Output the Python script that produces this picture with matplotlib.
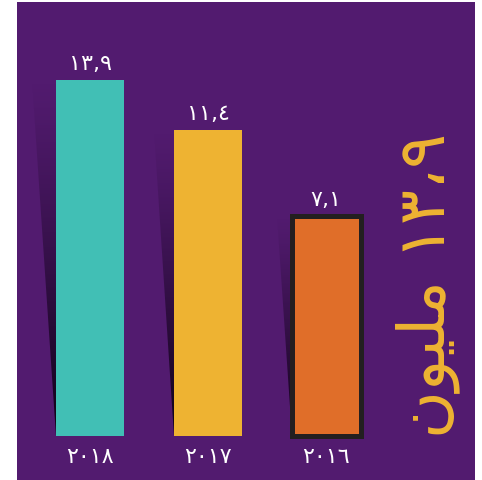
import matplotlib
matplotlib.use("Agg")
import matplotlib.pyplot as plt
from matplotlib.patches import Polygon
import numpy as np

# data
years = ["٢٠١٨", "٢٠١٧", "٢٠١٦"]
values = [13.9, 11.4, 7.1]
value_labels = ["١٣,٩", "١١,٤", "٧,١"]
headline = "\uFEE5\uFEEE\uFEF4\uFEE0\uFEE3 ١٣،٩"  # "١٣،٩ مليون" in visual order
colors = ["#41bfb5", "#eeb332", "#e06e29"]

purple = "#521b6f"
base = -3.9  # visual baseline of the infographic

fig = plt.figure(figsize=(4.82, 4.81), dpi=100, facecolor="white")
ax = fig.add_axes([17 / 482, 0, 458 / 482, 478 / 481])
ax.set_facecolor(purple)
ax.set_xlim(-0.62, 3.26)
ax.set_ylim(-6.1, 17.8)
for s in ax.spines.values():
    s.set_visible(False)

x = np.arange(len(values))
width = 0.58
heights = np.array(values) - base

# shadow wedges on the left of every bar
grad = np.zeros((256, 2, 4))
grad[..., 0] = 0.06
grad[..., 1] = 0.01
grad[..., 2] = 0.09
grad[..., 3] = np.linspace(1.0, 0.0, 256)[:, None] ** 1.2
for xi, h in zip(x, heights):
    left = xi - width / 2
    off = 0.0112 * h
    poly = Polygon([(left - off, base + h), (left, base + h), (left, base)],
                   closed=True, facecolor="none", edgecolor="none")
    ax.add_patch(poly)
    im = ax.imshow(grad, extent=(left - off, left, base, base + h),
                   aspect="auto", origin="lower", zorder=1, interpolation="bilinear")
    im.set_clip_path(poly)

bars = ax.bar(x, heights, width, bottom=base, color=colors, zorder=2)
bars[2].set_edgecolor("#231f20")
bars[2].set_linewidth(3.6)

for xi, v, lab in zip(x, values, value_labels):
    ax.annotate(lab, (xi, v), xytext=(0, 5), textcoords="offset points",
                ha="center", va="bottom", color="white", fontsize=16,
                family="DejaVu Sans")

# year labels under the bars
for xi, yr in zip(x, years):
    ax.text(xi, base - 1.0, yr, ha="center", va="center", color="white",
            fontsize=16, family="DejaVu Sans")
ax.set_xticks([])
ax.set_yticks([])

ax.text(2.86, 3.7, headline, rotation=90, ha="center", va="center",
        color="#eeb332", fontsize=47, family="DejaVu Sans")

fig.savefig("out.png", dpi=100, facecolor="white")
